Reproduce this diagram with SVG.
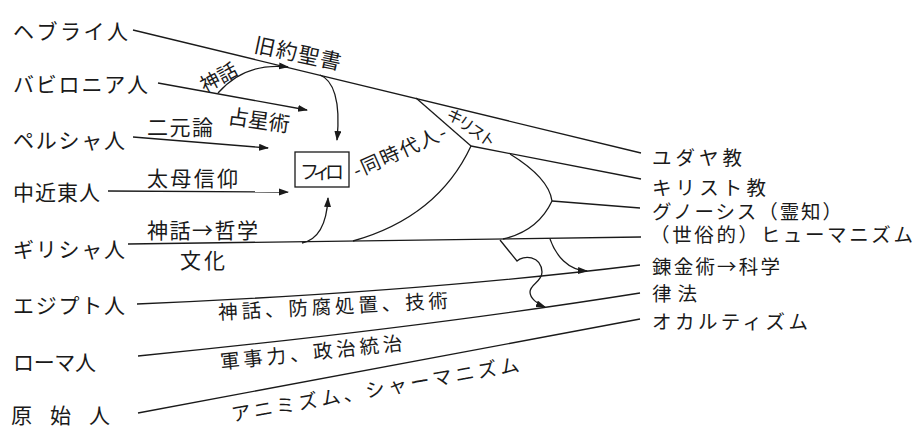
<svg xmlns="http://www.w3.org/2000/svg" width="915" height="427" viewBox="0 0 915 427">
<defs>
<marker id="ah" markerWidth="10" markerHeight="8" refX="9" refY="3.5" orient="auto" markerUnits="userSpaceOnUse">
<path d="M0,0 L10,3.5 L0,7 z" fill="#1a1a1a"/>
</marker>
<style>
text{font-family:"Noto Sans CJK JP","Noto Sans CJK SC",sans-serif;fill:#1a1a1a;dominant-baseline:central;}
.l{font-size:21px;}
.r{font-size:19.5px;}
.m{font-size:19.5px;}
.s{font-size:16px;}
.c{fill:none;stroke:#1a1a1a;stroke-width:1.3;}
.a{marker-end:url(#ah);}
</style>
</defs>
<rect width="915" height="427" fill="#fff"/>
<g id="connectors">
<line class="c" x1="133" y1="30" x2="641" y2="153"/>
<line class="c a" x1="158" y1="83" x2="307" y2="110"/>
<path class="c a" d="M218,93 Q245,62 288,67"/>
<path class="c a" d="M320,75 C333,80 341,100 337,140"/>
<line class="c a" x1="133" y1="137" x2="268" y2="148"/>
<line class="c a" x1="108" y1="191" x2="288" y2="192"/>
<line class="c" x1="128" y1="244" x2="641" y2="237"/>
<path class="c a" d="M302,243 Q326,238 328,198"/>
<path class="c" d="M353,241 Q438,217 471,146"/>
<line class="c" x1="416" y1="98" x2="471" y2="146"/>
<line class="c" x1="471" y1="146" x2="641" y2="179"/>
<path class="c" d="M510,154 Q549,178 552,201"/>
<path class="c" d="M552,201 Q538,231 503,239"/>
<line class="c" x1="552" y1="201" x2="640" y2="208"/>
<path class="c" d="M137,304 Q420,292 640,265"/>
<path class="c" d="M138,356 Q420,328 640,293"/>
<line class="c" x1="138" y1="413" x2="640" y2="319"/>
<path class="c a" d="M550,239 C556,256 568,270 587,271"/>
<path class="c a" d="M500,240 L517,261 C523,255 541,255 542,272 C542,282 530,284 530,292 C530,298 537,304 545,307"/>
</g>
<g id="hebrew"><text class="l" x="13" y="30" textLength="115" lengthAdjust="spacing">ヘブライ人</text></g>
<g id="babylonian"><text class="l" x="13" y="83" textLength="135" lengthAdjust="spacing">バビロニア人</text></g>
<g id="persian"><text class="l" x="13" y="139" textLength="112" lengthAdjust="spacing">ペルシャ人</text></g>
<g id="near-east"><text class="l" x="13" y="191" textLength="87" lengthAdjust="spacing">中近東人</text></g>
<g id="greek"><text class="l" x="13" y="248" textLength="112" lengthAdjust="spacing">ギリシャ人</text></g>
<g id="egyptian"><text class="l" x="13" y="304" textLength="112" lengthAdjust="spacing">エジプト人</text></g>
<g id="roman"><text class="l" x="13" y="361" textLength="83" lengthAdjust="spacing">ローマ人</text></g>
<g id="primitive"><text class="l" x="11" y="414" textLength="99" lengthAdjust="spacing">原始人</text></g>
<g id="philo">
<rect x="295" y="152" width="54" height="35" fill="#fff" stroke="#1a1a1a" stroke-width="1.3"/>
<text class="m" x="300" y="170" textLength="44" lengthAdjust="spacing" style="font-size:19px">フィロ</text>
</g>
<g id="judaism"><text class="r" x="652" y="156" textLength="90" lengthAdjust="spacing">ユダヤ教</text></g>
<g id="christianity"><text class="r" x="652" y="186" textLength="114" lengthAdjust="spacing">キリスト教</text></g>
<g id="gnosis"><text class="r" x="652" y="210" textLength="190" lengthAdjust="spacing">グノーシス（霊知）</text></g>
<g id="humanism"><text class="r" x="650" y="233" textLength="263" lengthAdjust="spacing">（世俗的）ヒューマニズム</text></g>
<g id="alchemy"><text class="r" x="652" y="265" textLength="128" lengthAdjust="spacing">錬金術→科学</text></g>
<g id="law"><text class="r" x="652" y="292" textLength="45" lengthAdjust="spacing">律法</text></g>
<g id="occultism"><text class="r" x="652" y="320" textLength="156" lengthAdjust="spacing">オカルティズム</text></g>
<g id="labels">
<text class="m" x="218" y="76" text-anchor="middle" transform="rotate(-28 218 76)">神話</text>
<text class="l" x="298" y="52" text-anchor="middle" textLength="88" lengthAdjust="spacing" transform="rotate(12 298 52)">旧約聖書</text>
<text class="l" x="259" y="119" text-anchor="middle" textLength="62" lengthAdjust="spacing" transform="rotate(8 259 119)">占星術</text>
<text class="l" x="147" y="126" textLength="66" lengthAdjust="spacing">二元論</text>
<text class="l" x="147" y="177" textLength="91" lengthAdjust="spacing">太母信仰</text>
<text class="m" x="399" y="150" text-anchor="middle" textLength="100" lengthAdjust="spacing" transform="rotate(-24 399 150)">-同時代人-</text>
<text class="s" x="472" y="127" text-anchor="middle" textLength="56" lengthAdjust="spacing" transform="rotate(35 472 127)">キリスト</text>
<text class="l" x="147" y="229" textLength="111" lengthAdjust="spacing">神話→哲学</text>
<text class="l" x="180" y="259" textLength="45" lengthAdjust="spacing">文化</text>
<text class="m" x="333" y="305" text-anchor="middle" textLength="230" lengthAdjust="spacing" transform="rotate(-3 333 305)">神話、防腐処置、技術</text>
<text class="m" x="311" y="351" text-anchor="middle" textLength="183" lengthAdjust="spacing" transform="rotate(-6 311 351)">軍事力、政治統治</text>
<text class="m" x="375" y="388" text-anchor="middle" textLength="292" lengthAdjust="spacing" transform="rotate(-10 375 388)">アニミズム、シャーマニズム</text>
</g>
</svg>
